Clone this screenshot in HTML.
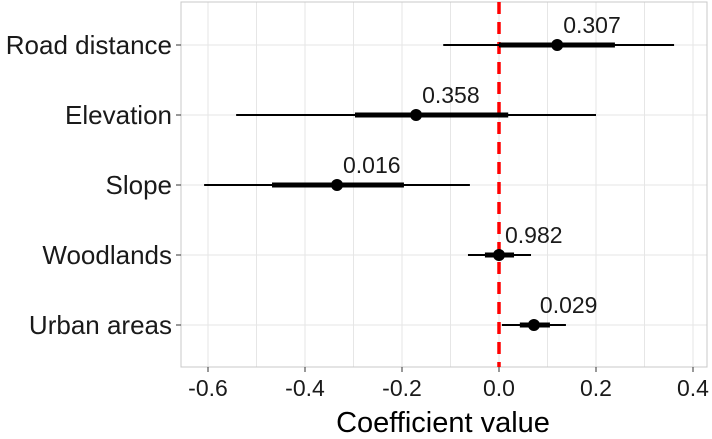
<!DOCTYPE html>
<html><head><meta charset="utf-8"><style>
html,body{margin:0;padding:0;background:#fff;}
svg{display:block;font-family:"Liberation Sans",sans-serif;}
</style></head><body>
<svg id="chart" width="712" height="439"></svg>
<script>
const categories=["Road distance","Elevation","Slope","Woodlands","Urban areas"];
const estimates=[0.12,-0.171,-0.334,0,0.072];
const lowOuter=[-0.115,-0.542,-0.608,-0.064,0.006];
const highOuter=[0.361,0.2,-0.06,0.066,0.138];
const lowInner=[0,-0.297,-0.468,-0.029,0.043];
const highInner=[0.239,0.019,-0.196,0.031,0.105];
const pLabels=["0.307","0.358","0.016","0.982","0.029"];
const xTicks=[-0.6,-0.4,-0.2,0.0,0.2,0.4];
const xTickLabels=["-0.6","-0.4","-0.2","0.0","0.2","0.4"];

const svg=document.getElementById('chart');
const NS="http://www.w3.org/2000/svg";
const L=181,R=707,T=2,B=367;
const x=v=>499+v*485;
const rowY=[45,116,185,255,325];
const y=i=>rowY[0]+i*(rowY[4]-rowY[0])/(categories.length-1);
function mk(tag,attrs,parent){const e=document.createElementNS(NS,tag);for(const k in attrs)e.setAttribute(k,attrs[k]);(parent||svg).appendChild(e);return e;}

const grid=mk('g',{});


for(let v=-0.7;v<=0.45;v+=0.1){const xv=x(Math.round(v*10)/10);if(xv<L||xv>R)continue;
 mk('line',{x1:xv,x2:xv,y1:T,y2:B,stroke:'#e6e6e6','stroke-width':1},grid);}
categories.forEach((c,i)=>{mk('line',{x1:L,x2:R,y1:y(i),y2:y(i),stroke:'#e6e6e6','stroke-width':1},grid);});
const border=mk('rect',{x:L,y:T,width:R-L,height:B-T,fill:'none',stroke:'#c8c8c8','stroke-width':1});



const zl=mk('line',{x1:x(0),x2:x(0),y1:T,y2:B,stroke:'#ff0000','stroke-width':3.5,'stroke-dasharray':'12,8'});



categories.forEach((c,i)=>{
 const g=mk('g',{});
 
 
 mk('line',{x1:x(lowOuter[i]),x2:x(highOuter[i]),y1:y(i),y2:y(i),stroke:'#000','stroke-width':2},g);
 mk('line',{x1:x(lowInner[i]),x2:x(highInner[i]),y1:y(i),y2:y(i),stroke:'#000','stroke-width':5},g);
 mk('circle',{cx:x(estimates[i]),cy:y(i),r:6,fill:'#000'},g);
 const t=mk('text',{x:x(estimates[i])+6,y:y(i)-12,'font-size':23,fill:'#1a1a1a'},g);t.textContent=pLabels[i];
 const lab=mk('text',{x:L-9,y:y(i)+9,'font-size':26,'text-anchor':'end',fill:'#1a1a1a'});
 
 
 lab.textContent=c;
 mk('line',{x1:L-5,x2:L,y1:y(i),y2:y(i),stroke:'#333','stroke-width':1});
});
xTicks.forEach((v,i)=>{
 mk('line',{x1:x(v),x2:x(v),y1:B,y2:B+5,stroke:'#333','stroke-width':1});
 const t=mk('text',{x:x(v),y:B+29,'font-size':23,'text-anchor':'middle',fill:'#1a1a1a'});
 
 
 t.textContent=xTickLabels[i];
});
const xt=mk('text',{x:(L+R)/2-1,y:432,'font-size':29,'text-anchor':'middle',fill:'#000'});


xt.textContent="Coefficient value";
</script>
</body></html>
